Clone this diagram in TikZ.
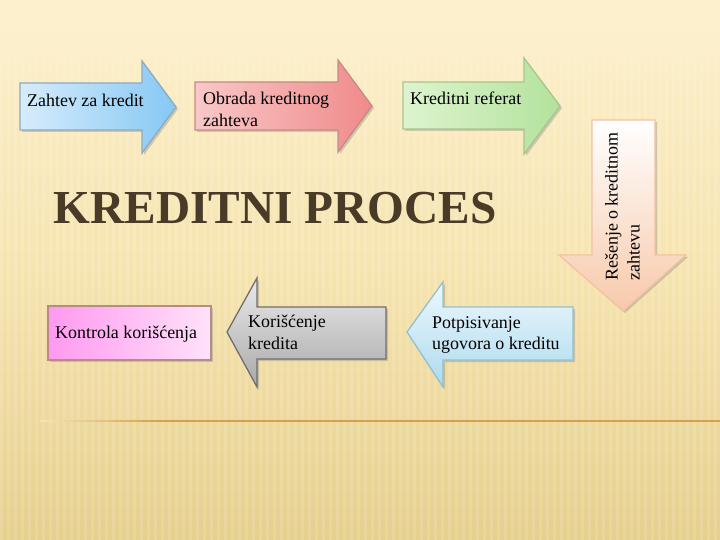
\documentclass[tikz,border=0pt]{standalone}
\usepackage{fontspec}
\setmainfont{Liberation Serif}
\usetikzlibrary{shadows,fadings}
\definecolor{bgtop}{HTML}{FDF0CC}
\definecolor{bgmid}{HTML}{F6E4B0}
\definecolor{bgbot}{HTML}{E6D08E}
\definecolor{linecol}{HTML}{D4A24A}
\definecolor{titlecol}{HTML}{4A3A28}
\tikzset{
  arrowshape/.style={line width=1.3bp, drop shadow={shadow xshift=2bp, shadow yshift=-2bp, opacity=0.35}},
  label/.style={font=\fontsize{18}{22}\selectfont, text=black, inner sep=0pt, align=left},
}
\definecolor{bl1}{HTML}{D6ECFC}\definecolor{bl2}{HTML}{86C8F4}\definecolor{bld}{HTML}{8FA9BE}
\definecolor{rd1}{HTML}{F8C8C8}\definecolor{rd2}{HTML}{F08A8A}\definecolor{rdd}{HTML}{C58B86}
\definecolor{gr1}{HTML}{DDF4CF}\definecolor{gr2}{HTML}{B3E29C}\definecolor{grd}{HTML}{A9C58E}
\definecolor{pc1}{HTML}{FFFFFF}\definecolor{pc2}{HTML}{F7C9AA}\definecolor{pcd}{HTML}{F3C2A2}
\definecolor{pk1}{HTML}{FF99F0}\definecolor{pk2}{HTML}{FFE2FA}\definecolor{pkd}{HTML}{B58C86}
\definecolor{gy1}{HTML}{EAEAEA}\definecolor{gy2}{HTML}{A9A9A9}\definecolor{gyd}{HTML}{6E6E6E}
\definecolor{lb1}{HTML}{EEF8FD}\definecolor{lb2}{HTML}{ADDAEE}\definecolor{lbd}{HTML}{8EC2D2}
\begin{document}
\begin{tikzpicture}[x=1bp,y=-1bp]
\useasboundingbox (0,0) rectangle (720,540);
% background
\shade[top color=bgtop, bottom color=bgmid] (0,0) rectangle (720,270);
\shade[top color=bgmid, bottom color=bgbot] (0,270) rectangle (720,540);
\fill[bgtop] (0,0) rectangle (720,30);
\foreach \i in {0,7,...,720} {
  \fill[white, opacity=0.13] (\i,30) rectangle (\i+3,540);
}
\fill[bgtop, path fading=south] (0,29) rectangle (720,95);
% bottom line
\shade[left color=bgmid, right color=linecol] (40,420.3) rectangle (160,421.7);
\fill[linecol] (160,420.3) rectangle (720,421.7);

% top arrows
\path[arrowshape, draw=bld, left color=bl1, right color=bl2]
  (20,83) -- (142,83) -- (142,61) -- (176,107) -- (142,153) -- (142,130) -- (20,130) -- cycle;
\path[arrowshape, draw=rdd, left color=rd1, right color=rd2]
  (195,82) -- (338,82) -- (338,60) -- (372,106) -- (338,152) -- (338,130) -- (195,130) -- cycle;
\path[arrowshape, draw=grd, left color=gr1, right color=gr2]
  (403,82) -- (524,82) -- (524,58) -- (560,106) -- (524,154) -- (524,129) -- (403,129) -- cycle;
% down arrow
\path[arrowshape, draw=pcd, top color=pc1, bottom color=pc2]
  (592,120) -- (655,120) -- (655,255) -- (686,255) -- (623,311) -- (559,255) -- (592,255) -- cycle;
% bottom shapes
\path[arrowshape, draw=pkd, left color=pk1, right color=pk2]
  (48,306) rectangle (211,360);
\path[arrowshape, draw=gyd, top color=gy1, bottom color=gy2]
  (386,307) -- (257,307) -- (257,278) -- (227,332) -- (257,387) -- (257,359) -- (386,359) -- cycle;
\path[arrowshape, draw=lbd, top color=lb1, bottom color=lb2]
  (573,307) -- (443,307) -- (443,282) -- (407,332) -- (443,387) -- (443,360) -- (573,360) -- cycle;

% labels
\node[label, anchor=west] (zahtev) at (27,100) {Zahtev za kredit};
\node[label, anchor=north west] (obrada) at (203,92) {Obrada kreditnog\\zahteva};
\node[label, anchor=west] (referat) at (410,98) {Kreditni referat};
\node[label, rotate=90, anchor=north west] (resenje) at (605,281) {Rešenje o kreditnom\\zahtevu};
\node[label, anchor=west] (kontrola) at (55,334) {Kontrola korišćenja};
\node[label, anchor=north west] (koriscenje) at (248,315) {Korišćenje\\kredita};
\node[label, anchor=north west] (potpis) at (432,316) {Potpisivanje\\ugovora o kreditu};

\node[font=\fontsize{47.5}{50}\selectfont\bfseries, text=titlecol, inner sep=0pt] (title) at (275,208) {KREDITNI PROCES};
\end{tikzpicture}
\end{document}
